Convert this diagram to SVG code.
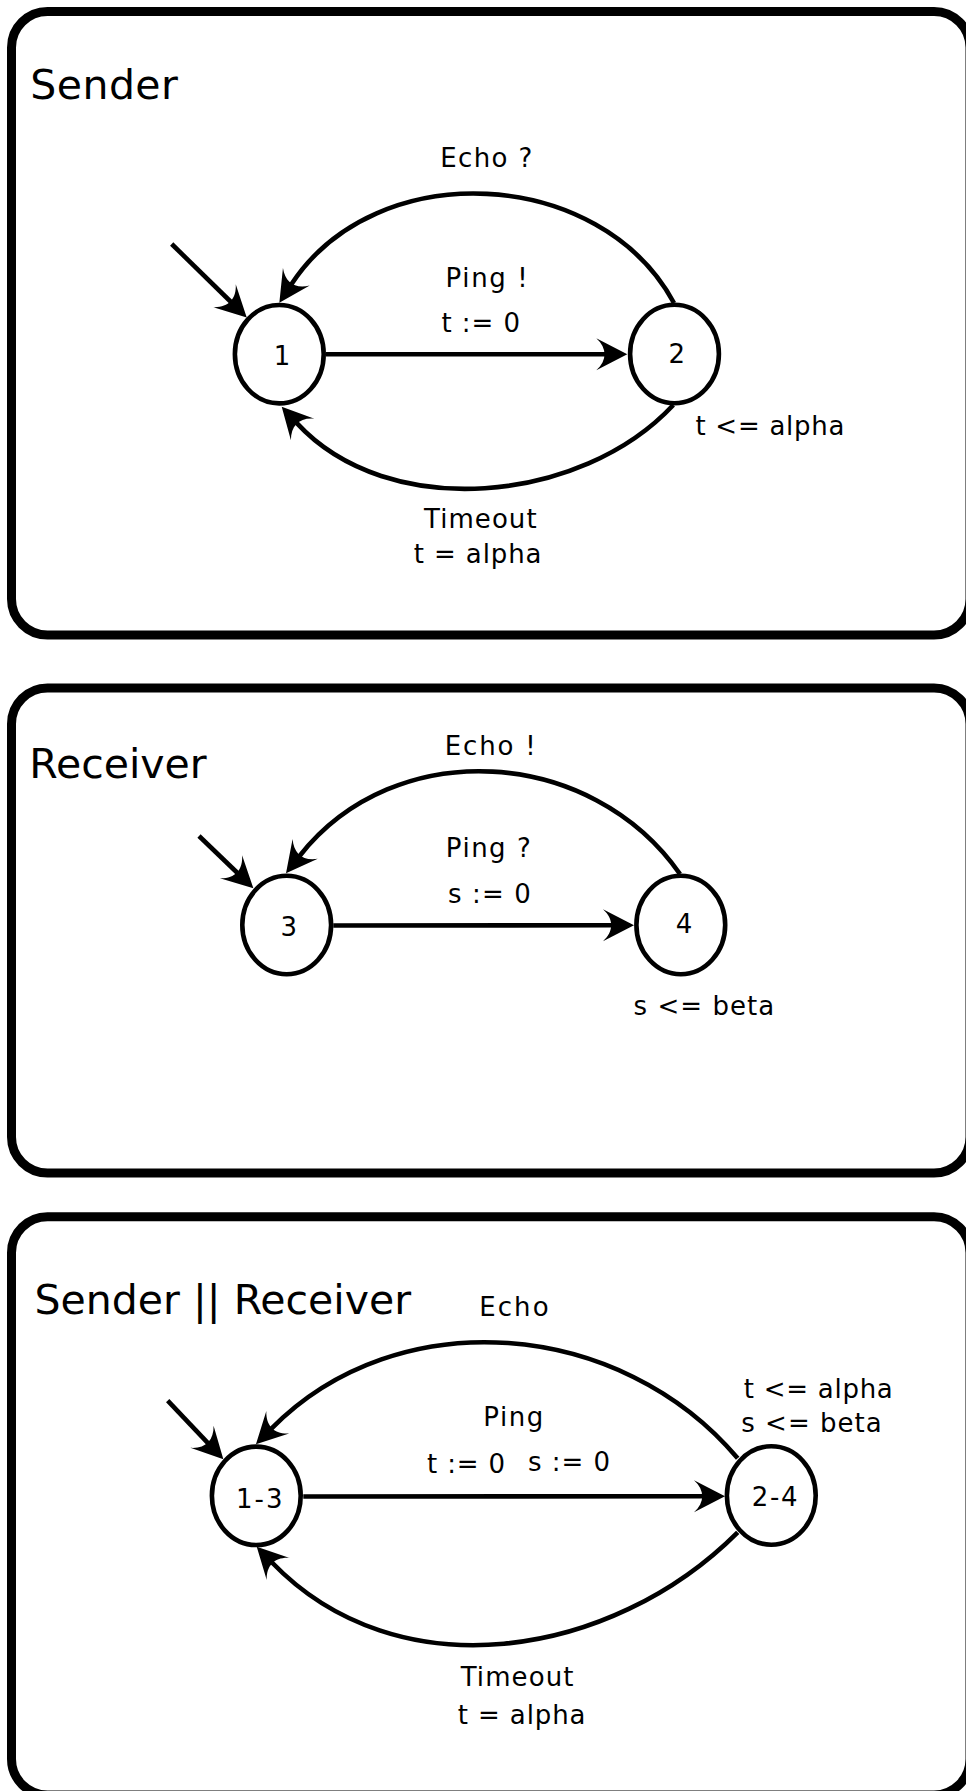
<svg xmlns="http://www.w3.org/2000/svg" width="966" height="1791" viewBox="0 0 966 1791">
  <style>
    .frame { fill: none; stroke: #000; stroke-width: 9; }
    .state { fill: #fff; stroke: #000; stroke-width: 4.6; }
    .edge { fill: none; stroke: #000; stroke-width: 4.6; marker-end: url(#arrow); }
    text { font-family: "DejaVu Sans", "Liberation Sans", sans-serif; fill: #000; }
    .title { font-size: 41px; }
    .lbl { font-size: 26px; }
    .sid { font-size: 26px; text-anchor: middle; }
  </style>
  <defs>
    <marker id="arrow" markerUnits="userSpaceOnUse" orient="auto" refX="-22" refY="0" markerWidth="40" markerHeight="40" overflow="visible">
      <path d="M0,0 L-31,-16 C-20,-6 -20,6 -31,16 Z" fill="#000"/>
    </marker>
  </defs>

  <rect width="966" height="1791" fill="#fff"/>

  <!-- automaton frames -->
  <g id="frames">
    <rect id="frame-sender" class="frame" x="11.5" y="11.5" width="958.5" height="623.5" rx="36" ry="36"/>
    <rect id="frame-receiver" class="frame" x="11.5" y="688" width="958.5" height="485" rx="36" ry="36"/>
    <rect id="frame-product" class="frame" x="11.5" y="1216.7" width="958.5" height="578.3" rx="36" ry="36"/>
  </g>

  <!-- titles -->
  <g id="titles">
    <text class="title" x="30.3" y="99" textLength="147.6">Sender</text>
    <text class="title" x="29.3" y="778.3">Receiver</text>
    <text class="title" x="34.6" y="1314">Sender || Receiver</text>
  </g>

  <!-- transitions -->
  <g id="connectors">
    <!-- Sender -->
    <path class="edge" d="M171.7,244 L231,302"/>
    <path class="edge" d="M326,354.3 L605.3,354.2"/>
    <path class="edge" d="M674,303 C600.5,166.6 376.3,154.7 291.4,284.3"/>
    <path class="edge" d="M673.3,405 C581.5,503.6 388.1,522.4 296.6,422.9"/>
    <!-- Receiver -->
    <path class="edge" d="M199,836 L237.5,873"/>
    <path class="edge" d="M333.3,925.5 L612,925.3"/>
    <path class="edge" d="M680,874 C591.6,746.9 395.5,734 299.6,856"/>
    <!-- Sender || Receiver -->
    <path class="edge" d="M167.7,1400.7 L208.2,1443.3"/>
    <path class="edge" d="M303.3,1496.5 L703,1496.2"/>
    <path class="edge" d="M737.7,1458.3 C620.7,1319.4 398.5,1299.8 271.4,1428.6"/>
    <path class="edge" d="M737.7,1532.3 C610.4,1659.6 396.9,1692.1 272,1562.5"/>
  </g>

  <!-- transition labels -->
  <g id="edge-labels">
    <text class="lbl" x="440.2" y="166.7" textLength="92.2">Echo ?</text>
    <text class="lbl" x="445.5" y="286.7" textLength="82.3">Ping !</text>
    <text class="lbl" x="441.4" y="332.3" textLength="78.7">t := 0</text>
    <text class="lbl" x="424" y="527.7" textLength="112.6">Timeout</text>
    <text class="lbl" x="413.7" y="563.3" textLength="127.8">t = alpha</text>

    <text class="lbl" x="444.8" y="755" textLength="90.9">Echo !</text>
    <text class="lbl" x="445.8" y="856.7" textLength="84.9">Ping ?</text>
    <text class="lbl" x="447.9" y="903.3" textLength="82.9">s := 0</text>

    <text class="lbl" x="479.2" y="1316" textLength="69.4">Echo</text>
    <text class="lbl" x="483.2" y="1425.7" textLength="60.1">Ping</text>
    <text class="lbl" x="427" y="1473.3" textLength="78.1">t := 0</text>
    <text class="lbl" x="527.9" y="1470.7" textLength="82.2">s := 0</text>
    <text class="lbl" x="460.7" y="1686" textLength="112.7">Timeout</text>
    <text class="lbl" x="457.7" y="1724.3" textLength="127.8">t = alpha</text>
  </g>

  <!-- states -->
  <g id="state-1">
    <ellipse class="state" cx="279.3" cy="354.2" rx="44.4" ry="49.2"/>
    <text class="sid" x="282" y="365">1</text>
  </g>
  <g id="state-2">
    <ellipse class="state" cx="674.5" cy="354" rx="44.4" ry="49.2"/>
    <text class="sid" x="676.7" y="363.3">2</text>
    <text class="lbl" x="695.4" y="435" textLength="149.1">t &lt;= alpha</text>
  </g>
  <g id="state-3">
    <ellipse class="state" cx="286.7" cy="925" rx="44.4" ry="49.2"/>
    <text class="sid" x="288.7" y="935.7">3</text>
  </g>
  <g id="state-4">
    <ellipse class="state" cx="680.8" cy="925" rx="44.4" ry="49.2"/>
    <text class="sid" x="684" y="933.3">4</text>
    <text class="lbl" x="633.6" y="1015" textLength="140.7">s &lt;= beta</text>
  </g>
  <g id="state-1-3">
    <ellipse class="state" cx="256.3" cy="1495.8" rx="44.4" ry="49.2"/>
    <text class="sid" x="259.2" y="1508.3" textLength="46.5">1-3</text>
  </g>
  <g id="state-2-4">
    <ellipse class="state" cx="771.3" cy="1495.5" rx="44.4" ry="49.2"/>
    <text class="sid" x="774.7" y="1506" textLength="45.7">2-4</text>
    <text class="lbl" x="743.7" y="1398.3" textLength="149.1">t &lt;= alpha</text>
    <text class="lbl" x="741.3" y="1432.3" textLength="140.3">s &lt;= beta</text>
  </g>
</svg>
